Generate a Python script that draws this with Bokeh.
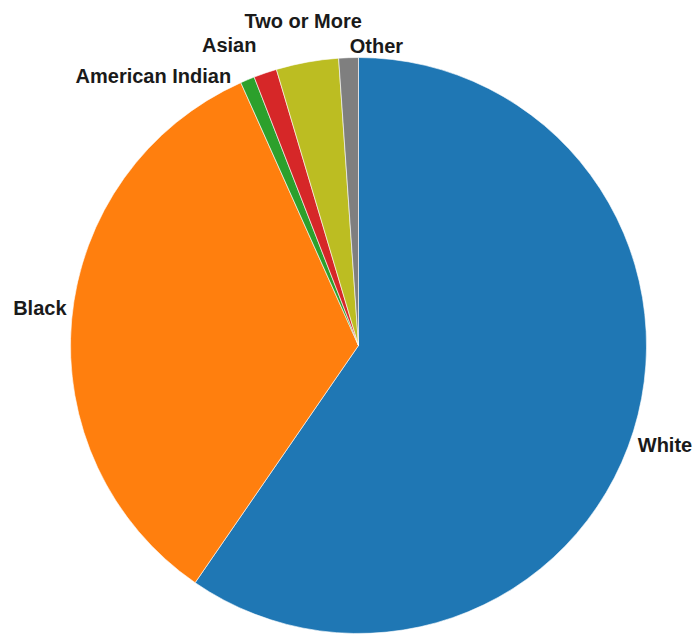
import math
from bokeh.plotting import figure
from bokeh.models import ColumnDataSource, Range1d
from bokeh.core.properties import value
from bokeh.embed import file_html
from bokeh.resources import INLINE

# ---- data (percent of population) ----
categories = ["White", "Black", "American Indian", "Asian", "Two or More", "Other"]
shares = [59.6, 33.7, 0.8, 1.3, 3.5, 1.1]
colors = ["#1f77b4", "#ff7f0e", "#2ca02c", "#d62728", "#bcbd22", "#7f7f7f"]

# ---- layout / style ----
W, H = 693, 634
CX, CY = 358, 289          # pie centre (pixel-scaled data units)
RADIUS = 288
LABEL_R = 322
# manual label adjustments / collision avoidance (px: right, up)
label_nudge = {"White": (-1, -4), "Black": (2, 8),
               "American Indian": (-81, -28), "Asian": (-25, -4),
               "Two or More": (2, 8), "Other": (29, -22)}

total = sum(shares)
starts, ends, lx, ly = [], [], [], []
cum = 0.0
for cat, s in zip(categories, shares):
    a0 = cum / total * 2 * math.pi
    cum += s
    a1 = cum / total * 2 * math.pi
    # clockwise from 12 o'clock
    starts.append(math.pi / 2 - a0)
    ends.append(math.pi / 2 - a1)
    mid = (a0 + a1) / 2
    dx, dy = label_nudge.get(cat, (0, 0))
    lx.append(CX + LABEL_R * math.sin(mid) + dx)
    ly.append(CY + LABEL_R * math.cos(mid) + dy)

src = ColumnDataSource(dict(cat=categories, start=starts, end=ends,
                            color=colors, lx=lx, ly=ly))

p = figure(width=W, height=H, output_backend="svg", toolbar_location=None,
           x_range=Range1d(0, W), y_range=Range1d(0, H),
           x_axis_location=None, y_axis_location=None, min_border=0)
p.grid.visible = False
p.outline_line_color = None
p.background_fill_color = "white"

p.wedge(x=CX, y=CY, radius=RADIUS, start_angle="start", end_angle="end",
        direction="clock", fill_color="color", line_color="white",
        line_width=0.6, source=src)

p.text(x="lx", y="ly", text="cat", source=src, text_align="center",
       text_baseline="middle", text_font=value("Liberation Sans"),
       text_font_style="bold", text_font_size="20px", text_color="#1a1a1a")

open("out.html", "w").write(file_html(p, INLINE))
